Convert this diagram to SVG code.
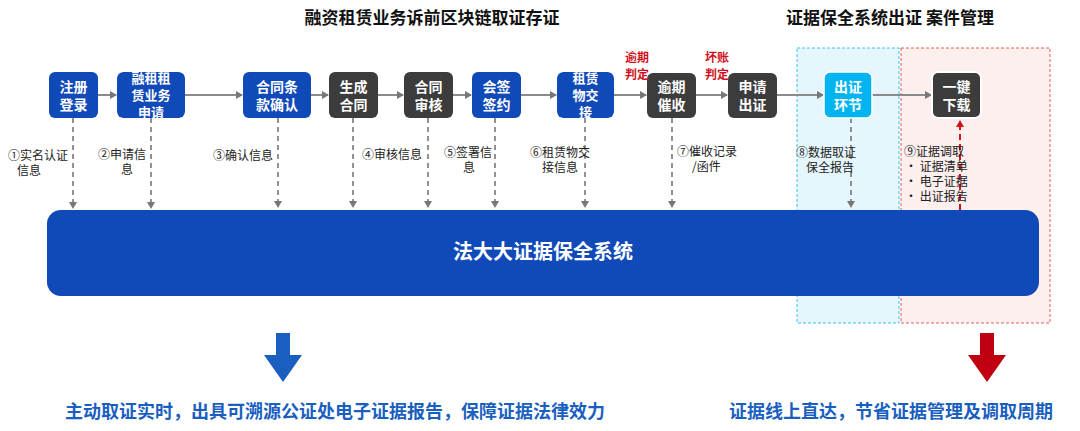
<svg xmlns="http://www.w3.org/2000/svg" width="1080" height="431" viewBox="0 0 1080 431">
<style>
text{font-family:"Noto Sans CJK SC","Liberation Sans",sans-serif}
.nb{fill:#1049b8}.nd{fill:#3c3c3c}
.nt{fill:#fff;font-size:14px;font-weight:bold;text-anchor:middle}
.ns{fill:#fff;font-size:13px;font-weight:bold;text-anchor:middle}
.lb{fill:#222;font-size:12px}
.h{stroke:#8a8a8a;stroke-width:2;fill:none;marker-end:url(#ag)}
.d{stroke:#777;stroke-width:1.6;stroke-dasharray:5,4;fill:none;marker-end:url(#ag)}
.red{fill:#d0101a;font-size:12px;font-weight:bold;text-anchor:middle}
.tt{fill:#111;font-size:17px;font-weight:bold;text-anchor:middle}
.bt{fill:#1a5fbf;font-size:18px;font-weight:bold;text-anchor:middle}
</style>
<defs>
<marker id="ag" markerWidth="8" markerHeight="8" refX="6" refY="4" orient="auto" markerUnits="userSpaceOnUse"><path d="M0,0 L7,4 L0,8 z" fill="#777"/></marker>
<marker id="ar" markerWidth="8" markerHeight="8" refX="6" refY="4" orient="auto" markerUnits="userSpaceOnUse"><path d="M0,0 L7,4 L0,8 z" fill="#d0101a"/></marker>
<clipPath id="c1"><rect x="117" y="72" width="68" height="46" rx="6"/></clipPath>
<clipPath id="c2"><rect x="557" y="72" width="57" height="46" rx="6"/></clipPath>
</defs>
<rect width="1080" height="431" fill="#fff"/>
<g id="zones">
<rect x="797" y="48" width="102" height="275" fill="#e6f6fd" stroke="#3cc0f0" stroke-dasharray="3,2"/>
<rect x="901" y="48" width="149" height="275" fill="#fcefee" stroke="#e06060" stroke-dasharray="3,2"/>
</g>
<text class="tt" x="432" y="24">融资租赁业务诉前区块链取证存证</text>
<text class="tt" x="890" y="24">证据保全系统出证  案件管理</text>
<g id="connectors">
<line class="h" x1="98" y1="95" x2="116" y2="95"/>
<line class="h" x1="185" y1="95" x2="242" y2="95"/>
<line class="h" x1="311" y1="95" x2="328" y2="95"/>
<line class="h" x1="378" y1="95" x2="403" y2="95"/>
<line class="h" x1="453" y1="95" x2="471" y2="95"/>
<line class="h" x1="521" y1="95" x2="556" y2="95"/>
<line class="h" x1="614" y1="95" x2="646" y2="95"/>
<line class="h" x1="695" y1="95" x2="727" y2="95"/>
<line class="h" x1="777" y1="95" x2="823" y2="95"/>
<line class="h" x1="872" y1="95" x2="931" y2="95"/>
<line class="d" x1="73" y1="118" x2="73" y2="208"/>
<line class="d" x1="151" y1="118" x2="151" y2="208"/>
<line class="d" x1="278" y1="118" x2="278" y2="207"/>
<line class="d" x1="353" y1="118" x2="353" y2="207"/>
<line class="d" x1="428" y1="118" x2="428" y2="207"/>
<line class="d" x1="495" y1="118" x2="495" y2="207"/>
<line class="d" x1="585" y1="118" x2="585" y2="207"/>
<line class="d" x1="672" y1="118" x2="672" y2="207"/>
<line class="d" x1="851" y1="118" x2="851" y2="207"/>
<line x1="960" y1="210" x2="960" y2="121" stroke="#d0101a" stroke-width="2" stroke-dasharray="6,4" marker-end="url(#ar)"/>
</g>
<g id="n1"><rect class="nb" x="49" y="72" width="49" height="46" rx="6"/><text class="nt" x="73.5" y="92">注册</text><text class="nt" x="73.5" y="110">登录</text></g>
<g id="n2" clip-path="url(#c1)"><rect class="nb" x="117" y="72" width="68" height="46" rx="6"/><text class="ns" x="151" y="83">融租租</text><text class="ns" x="151" y="100">赁业务</text><text class="ns" x="151" y="117">申请</text></g>
<g id="n3"><rect class="nb" x="243" y="72" width="68" height="46" rx="6"/><text class="nt" x="277" y="92">合同条</text><text class="nt" x="277" y="110">款确认</text></g>
<g id="n4"><rect class="nd" x="329" y="72" width="49" height="46" rx="6"/><text class="nt" x="353.5" y="92">生成</text><text class="nt" x="353.5" y="110">合同</text></g>
<g id="n5"><rect class="nd" x="404" y="72" width="49" height="46" rx="6"/><text class="nt" x="428.5" y="92">合同</text><text class="nt" x="428.5" y="110">审核</text></g>
<g id="n6"><rect class="nb" x="472" y="72" width="49" height="46" rx="6"/><text class="nt" x="496.5" y="92">会签</text><text class="nt" x="496.5" y="110">签约</text></g>
<g id="n7" clip-path="url(#c2)"><rect class="nb" x="557" y="72" width="57" height="46" rx="6"/><text class="ns" x="585.5" y="83">租赁</text><text class="ns" x="585.5" y="100">物交</text><text class="ns" x="585.5" y="117">接</text></g>
<g id="n8"><rect class="nd" x="647" y="73" width="49" height="45" rx="6"/><text class="nt" x="671.5" y="92">逾期</text><text class="nt" x="671.5" y="110">催收</text></g>
<g id="n9"><rect class="nd" x="728" y="73" width="49" height="45" rx="6"/><text class="nt" x="752.5" y="92">申请</text><text class="nt" x="752.5" y="110">出证</text></g>
<g id="n10"><rect fill="#00b4f0" stroke="#fff" stroke-width="1.5" x="824" y="72" width="48" height="46" rx="6"/><text class="nt" x="848" y="92">出证</text><text class="nt" x="848" y="110">环节</text></g>
<g id="n11"><rect class="nd" x="932" y="72" width="49" height="46" rx="6" stroke="#fff" stroke-width="2"/><text class="nt" x="956.5" y="92">一键</text><text class="nt" x="956.5" y="110">下载</text></g>
<text class="red" x="637" y="62">逾期</text><text class="red" x="637" y="79">判定</text>
<text class="red" x="717" y="62">坏账</text><text class="red" x="717" y="79">判定</text>
<g id="labels">
<text class="lb" x="8" y="160">①实名认证</text><text class="lb" x="17" y="175">信息</text>
<text class="lb" x="98" y="159">②申请信</text><text class="lb" x="121" y="174">息</text>
<text class="lb" x="213" y="160">③确认信息</text>
<text class="lb" x="362" y="159">④审核信息</text>
<text class="lb" x="444" y="157">⑤签署信</text><text class="lb" x="463" y="172">息</text>
<text class="lb" x="530" y="157">⑥租赁物交</text><text class="lb" x="542" y="172">接信息</text>
<text class="lb" x="677" y="156">⑦催收记录</text><text class="lb" x="692" y="171">/函件</text>
<text class="lb" x="796" y="157">⑧数据取证</text><text class="lb" x="806" y="172">保全报告</text>
<text class="lb" x="904" y="156">⑨证据调取</text>
<text class="lb" x="905" y="171">•   证据清单</text>
<text class="lb" x="905" y="186">•   电子证据</text>
<text class="lb" x="905" y="201">•   出证报告</text>
</g>
<g id="system"><rect x="47" y="210" width="992" height="86" rx="14" fill="#1049b8"/><text x="543" y="259" fill="#fff" font-size="20" font-weight="bold" text-anchor="middle" font-family="Noto Sans CJK SC, sans-serif">法大大证据保全系统</text></g>
<path d="M276,333 h14 v22 h12 l-19,27 l-19,-27 h12 z" fill="#1a5fbf"/>
<path d="M980,333 h14 v22 h12 l-19,27 l-19,-27 h12 z" fill="#c00010"/>
<text class="bt" x="335" y="418">主动取证实时，出具可溯源公证处电子证据报告，保障证据法律效力</text>
<text class="bt" x="891" y="418">证据线上直达，节省证据管理及调取周期</text>
</svg>
